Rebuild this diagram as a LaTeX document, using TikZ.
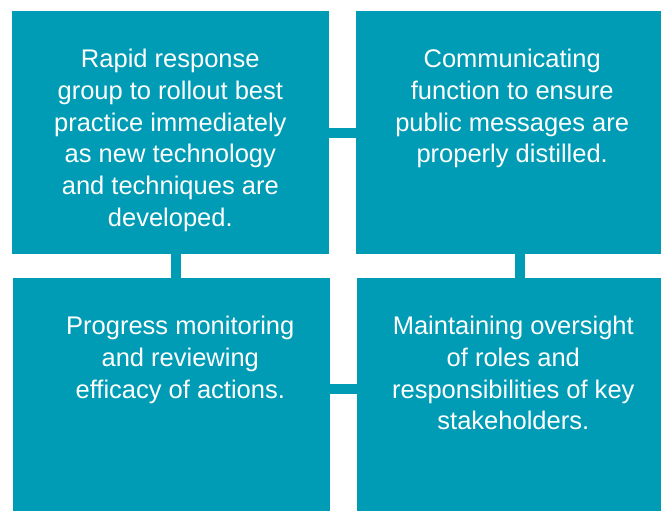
\documentclass[tikz,border=0pt]{standalone}
\usepackage{fontspec}
\setmainfont{Liberation Sans}
\definecolor{teal1}{RGB}{0,156,181}
\begin{document}
\begin{tikzpicture}[x=1bp,y=-1bp,
  box/.style={rectangle, fill=teal1, draw=none, inner sep=0pt, anchor=north west},
  txt/.style={text=white, align=center, inner sep=0pt, anchor=north,
    font=\fontsize{25.5bp}{31.7bp}\selectfont},
  conn/.style={draw=teal1, line width=10bp}]
\useasboundingbox (0,0) rectangle (661,511);
% boxes
\node[box, minimum width=317bp, minimum height=243bp] (tl) at (12,11) {};
\node[box, minimum width=305bp, minimum height=243bp] (tr) at (356,11) {};
\node[box, minimum width=317bp, minimum height=233.3bp] (bl) at (13,277.7) {};
\node[box, minimum width=304bp, minimum height=233.3bp] (br) at (357,277.7) {};
% connector guides
\coordinate (v1) at (176,0);
\coordinate (v2) at (520,0);
\coordinate (h1) at (0,133);
\coordinate (h2) at (0,389);
\draw[conn] (tl.east |- h1) -- (tr.west |- h1);
\draw[conn] (bl.east |- h2) -- (br.west |- h2);
\draw[conn] (tl.south -| v1) -- (bl.north -| v1);
\draw[conn] (tr.south -| v2) -- (br.north -| v2);
% texts
\node[txt] (ttl) at (170.3,49.2) {Rapid response\\group to rollout best\\practice immediately\\as new technology\\and techniques are\\developed.};
\node[txt] (ttr) at (512.2,49.2) {Communicating\\function to ensure\\public messages are\\properly distilled.};
\node[txt] (tbl) at (180.3,316.0) {Progress monitoring\\and reviewing\\efficacy of actions.};
\node[txt] (tbr) at (513.3,316.0) {Maintaining oversight\\of roles and\\responsibilities of key\\stakeholders.};
\end{tikzpicture}
\end{document}
